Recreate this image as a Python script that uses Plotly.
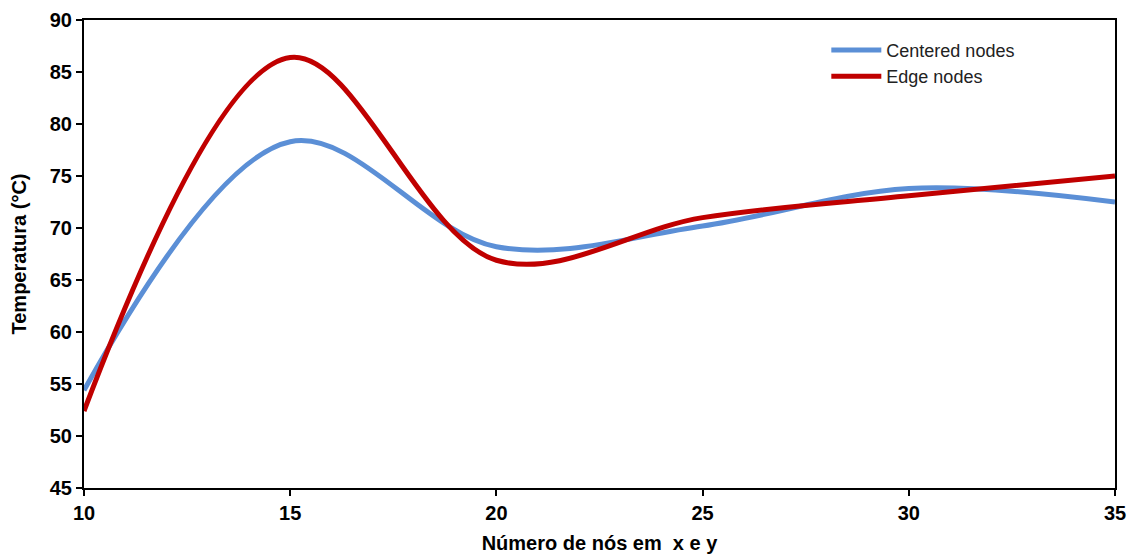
import plotly.graph_objects as go

x_nodes = [10, 15, 20, 25, 30, 35]
centered = [54.4, 78.3, 68.2, 70.2, 73.8, 72.5]
edge = [52.4, 86.4, 66.9, 71.0, 73.1, 75.0]

fig = go.Figure()
fig.add_trace(go.Scatter(x=x_nodes, y=centered, mode="lines", name="Centered nodes",
                         line=dict(color="#5B8FD6", width=5, shape="spline", smoothing=1)))
fig.add_trace(go.Scatter(x=x_nodes, y=edge, mode="lines", name="Edge nodes",
                         line=dict(color="#C00000", width=5, shape="spline", smoothing=1)))

axis_common = dict(showline=True, linecolor="black", linewidth=2, mirror=True,
                   ticks="outside", ticklen=6, tickwidth=2, tickcolor="black",
                   showgrid=False, zeroline=False, automargin=False)
fig.update_layout(
    width=1130, height=546,
    margin=dict(l=76, r=23, t=12, b=66),
    plot_bgcolor="white", paper_bgcolor="white",
    font=dict(family="Liberation Sans, Arial, sans-serif", color="black"),
    xaxis=dict(range=[10, 35], dtick=5, tickfont=dict(size=20, weight="bold"),
               title=dict(text="Número de nós em  x e y", font=dict(size=20, weight="bold"), standoff=14),
               **axis_common),
    yaxis=dict(range=[45, 90], dtick=5, tickfont=dict(size=20, weight="bold"),
               title=dict(text="Temperatura (°C)", font=dict(size=20, weight="bold"), standoff=18),
               **axis_common),
    legend=dict(x=0.72, y=0.975, xanchor="left", yanchor="top", bgcolor="rgba(0,0,0,0)",
                font=dict(size=18, color="#222222"), tracegroupgap=0, itemwidth=50),
    showlegend=True,
)
fig.write_html("out.html")
